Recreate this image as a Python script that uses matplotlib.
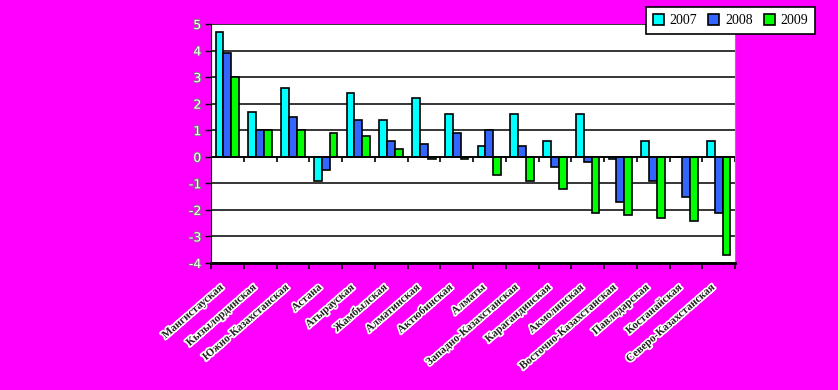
import matplotlib
matplotlib.use("Agg")
import matplotlib.pyplot as plt
import matplotlib.patheffects as pe
import numpy as np

categories = ["Мангистауская", "Кызылординская", "Южно-Казахстанская", "Астана",
              "Атырауская", "Жамбылская", "Алматинская", "Актюбинская", "Алматы",
              "Западно-Казахстанская", "Карагандинская", "Акмолинская",
              "Восточно-Казахстанская", "Павлодарская", "Костанайская",
              "Северо-Казахстанская"]
series_names = ["2007", "2008", "2009"]
v2007 = [4.7, 1.7, 2.6, -0.9, 2.4, 1.4, 2.2, 1.6, 0.4, 1.6, 0.6, 1.6, -0.1, 0.6, 0.0, 0.6]
v2008 = [3.9, 1.0, 1.5, -0.5, 1.4, 0.6, 0.5, 0.9, 1.0, 0.4, -0.4, -0.2, -1.7, -0.9, -1.5, -2.1]
v2009 = [3.0, 1.0, 1.0, 0.9, 0.8, 0.3, -0.1, -0.1, -0.7, -0.9, -1.2, -2.1, -2.2, -2.3, -2.4, -3.7]
yticks = [5, 4, 3, 2, 1, 0, -1, -2, -3, -4]
colors = ["#00FFFF", "#3366FF", "#00FF00"]

fig = plt.figure(figsize=(8.38, 3.90), dpi=100)
fig.patch.set_facecolor("#FF00FF")
ax = fig.add_axes([211/838, 1-263/390, (735-211)/838, (263-24)/390])
ax.set_facecolor("white")

n = len(categories)
x = np.arange(n)
w = 0.24
for i, (vals, c, name) in enumerate(zip([v2007, v2008, v2009], colors, series_names)):
    ax.bar(x + (i - 1) * w, vals, width=w, color=c, edgecolor="black",
           linewidth=1.2, label=name, zorder=3)

ax.set_xlim(-0.5, n - 0.5)
ax.set_ylim(min(yticks), max(yticks))
ax.set_yticks(yticks)
ax.set_yticklabels([str(t) for t in yticks], color="white", fontsize=9,
                   family="DejaVu Sans")
for t in ax.get_yticklabels():
    t.set_path_effects([pe.withStroke(linewidth=1.2, foreground="#777777")])
ax.yaxis.grid(True, color="black", linewidth=1.1, zorder=1)
ax.axhline(0, color="black", linewidth=1.2, zorder=4)

bounds = np.arange(n + 1) - 0.5
ax.vlines(bounds, -0.2, 0, color="black", linewidth=1.2, zorder=4)

ax.set_xticks(bounds)
ax.set_xticklabels([""] * (n + 1))
ax.tick_params(axis="x", direction="out", length=4, width=1.2, color="black")
ax.tick_params(axis="y", direction="out", length=4, width=1.0, color="black", pad=3)

for xi, lab in zip(x, categories):
    ax.text(xi - 0.25, -4.75, lab, rotation=41, ha="right", va="top",
            fontsize=8, fontweight="bold", family="Liberation Serif",
            color="#222222", rotation_mode="anchor",
            path_effects=[pe.withStroke(linewidth=2.5, foreground="white")])

ax.spines["top"].set_visible(False)
ax.spines["left"].set_color("black")
ax.spines["bottom"].set_color("black")
ax.spines["bottom"].set_linewidth(2)
ax.spines["right"].set_color("#888888")

leg = ax.legend(loc="upper left", bbox_to_anchor=(646/838, 1-7/390),
                bbox_transform=fig.transFigure, ncol=3, frameon=True,
                fancybox=False, edgecolor="black", framealpha=1,
                prop={"family": "Liberation Serif", "size": 10},
                handlelength=0.8, handleheight=0.8, handletextpad=0.4,
                columnspacing=0.8, borderpad=0.5, borderaxespad=0)
leg.get_frame().set_linewidth(1.2)

fig.savefig("out.png", dpi=100, facecolor=fig.get_facecolor())
